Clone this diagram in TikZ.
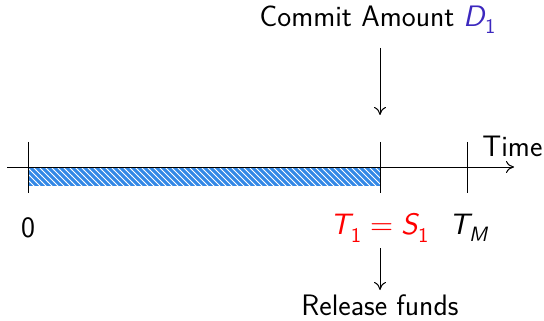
\documentclass[tikz,border=0pt]{standalone}
\usepackage{unicode-math}
\setmainfont{Latin Modern Sans}
\setmathfont{Latin Modern Math}
\usetikzlibrary{patterns,arrows.meta}
\definecolor{barblue}{RGB}{51,136,230}
\definecolor{dblue}{RGB}{60,40,190}
\newcommand{\si}[1]{\mathsfit{#1}}
\begin{document}
\begin{tikzpicture}[x=0.5pt,y=-0.5pt,
  lbl/.style={font=\fontsize{14.8}{17}\selectfont,inner sep=0pt},
  tick/.style={line width=0.5pt},
  arr/.style={-{To[length=4pt,width=6pt]},line width=0.5pt}]
\useasboundingbox (0,0) rectangle (544,320);
\fill[barblue] (28,168) rectangle (380,186);
\fill[pattern=north west lines,pattern color=white] (28,168) rectangle (380,186);
\coordinate (a0) at (7,167);
\coordinate (a1) at (514,167);
\draw[arr] (a0) -- (a1);
\draw[tick] (28,142) -- (28,193);
\draw[tick] (380,142) -- (380,193);
\draw[tick] (467,142) -- (467,193);
\node[lbl,anchor=south west] (time) at (482,157) {Time};
\node[lbl] (zero) at (28,228) {0};
\node[lbl,text=red] (t1) at (380,228) {$\si{T}_{\mathsf{1}} = \si{S}_{\mathsf{1}}$};
\node[lbl] (tm) at (470,228) {$\si{T}_{\si{M}}$};
\node[lbl] (commit) at (378,20) {Commit Amount \textcolor{dblue}{$\si{D}_{\mathsf{1}}$}};
\node[lbl] (release) at (380,305) {Release funds};
\coordinate (c0) at (380,48);
\coordinate (c1) at (380,115);
\coordinate (r0) at (380,248);
\coordinate (r1) at (380,290);
\draw[arr] (c0) -- (c1);
\draw[arr] (r0) -- (r1);
\end{tikzpicture}
\end{document}
